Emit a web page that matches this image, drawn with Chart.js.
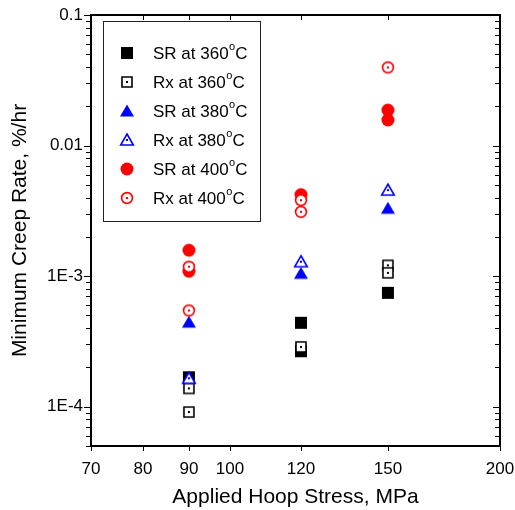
<!DOCTYPE html>
<html>
<head>
<meta charset="utf-8">
<script src="https://cdn.jsdelivr.net/npm/chart.js@4/dist/chart.umd.min.js"></script>
<style>
html,body{margin:0;padding:0;background:#fff;}
#wrap{width:515px;height:510px;}
</style>
</head>
<body>
<div id="wrap"><canvas id="c" width="515" height="510"></canvas></div>
<script>
// ---- data ----
const seriesNames = ['SR at 360', 'Rx at 360', 'SR at 380', 'Rx at 380', 'SR at 400', 'Rx at 400'];
const stressSR360 = [90, 120, 120, 150];
const rateSR360   = [1.68e-4, 4.39e-4, 2.66e-4, 7.45e-4];
const stressRx360 = [90, 90, 120, 150, 150];
const rateRx360   = [1.38e-4, 9.1e-5, 2.87e-4, 1.21e-3, 1.06e-3];
const stressSR380 = [90, 120, 150];
const rateSR380   = [4.44e-4, 1.05e-3, 3.31e-3];
const stressRx380 = [90, 120, 150];
const rateRx380   = [1.65e-4, 1.29e-3, 4.56e-3];
const stressSR400 = [90, 90, 120, 150, 150];
const rateSR400   = [1.58e-3, 1.09e-3, 4.21e-3, 1.87e-2, 1.57e-2];
const stressRx400 = [90, 90, 120, 120, 150];
const rateRx400   = [1.18e-3, 5.46e-4, 3.82e-3, 3.11e-3, 3.97e-2];

const xTickValues = [70, 80, 90, 100, 120, 150, 200];
const xTickLabels = ['70', '80', '90', '100', '120', '150', '200'];
const yTickValues = [5e-5, 6e-5, 7e-5, 8e-5, 9e-5,
                     1e-4, 2e-4, 3e-4, 4e-4, 5e-4, 6e-4, 7e-4, 8e-4, 9e-4,
                     1e-3, 2e-3, 3e-3, 4e-3, 5e-3, 6e-3, 7e-3, 8e-3, 9e-3,
                     1e-2, 2e-2, 3e-2, 4e-2, 5e-2, 6e-2, 7e-2, 8e-2, 9e-2,
                     1e-1];
const yTickLabels = ['', '', '', '', '',
                     '1E-4', '', '', '', '', '', '', '', '',
                     '1E-3', '', '', '', '', '', '', '', '',
                     '0.01', '', '', '', '', '', '', '', '',
                     '0.1'];

const FONT = "'Liberation Sans', Arial, Helvetica, sans-serif";

// ---- marker images ----
function makeMarker(shape, color, filled) {
  const s = 18, c = document.createElement('canvas');
  c.width = s; c.height = s;
  const g = c.getContext('2d'), m = s / 2;
  g.fillStyle = filled ? color : '#fff';
  g.strokeStyle = color;
  g.lineWidth = 1.6;
  g.beginPath();
  if (shape === 'square') {
    if (filled) g.rect(m - 6, m - 6, 12, 12); else g.rect(m - 5, m - 5, 10, 10);
  } else if (shape === 'triangle') {
    if (filled) { g.moveTo(m, m - 6.5); g.lineTo(m + 7, m + 5.5); g.lineTo(m - 7, m + 5.5); }
    else { g.moveTo(m, m - 6); g.lineTo(m + 6.3, m + 5); g.lineTo(m - 6.3, m + 5); }
    g.closePath();
  } else {
    if (filled) g.arc(m, m, 6.5, 0, Math.PI * 2); else g.arc(m, m, 5.4, 0, Math.PI * 2);
  }
  g.fill();
  if (!filled) {
    g.stroke();
    g.fillStyle = color;
    g.fillRect(m - 1, m - 1, 2, 2);
  }
  return c;
}
const markers = [
  makeMarker('square', '#000000', true),
  makeMarker('square', '#000000', false),
  makeMarker('triangle', '#0000ff', true),
  makeMarker('triangle', '#0000ff', false),
  makeMarker('circle', '#ff0000', true),
  makeMarker('circle', '#ff0000', false)
];

function pts(xs, ys) { return xs.map((v, i) => ({x: v, y: ys[i]})); }
const seriesData = [
  pts(stressSR360, rateSR360), pts(stressRx360, rateRx360),
  pts(stressSR380, rateSR380), pts(stressRx380, rateRx380),
  pts(stressSR400, rateSR400), pts(stressRx400, rateRx400)
];

const datasets = seriesData.map((d, i) => ({
  label: seriesNames[i],
  data: d,
  pointStyle: markers[i],
  pointRadius: 7,
  pointHoverRadius: 7,
  showLine: false,
  order: 6 - i
}));

// ---- frame / ticks plugin ----
const framePlugin = {
  id: 'frame',
  afterDraw(chart) {
    const {ctx, chartArea: a, scales: {x, y}} = chart;
    ctx.save();
    ctx.strokeStyle = '#000';
    ctx.lineWidth = 1;
    ctx.beginPath();
    y.ticks.forEach((t, i) => {
      const py = Math.round(y.getPixelForValue(t.value)) + 0.5;
      const len = yTickLabels[i] ? 7 : 5;
      ctx.moveTo(a.left - len, py); ctx.lineTo(a.left, py);
      ctx.moveTo(a.right - len, py); ctx.lineTo(a.right, py);
    });
    x.ticks.forEach(t => {
      const px = Math.round(x.getPixelForValue(t.value)) + 0.5;
      ctx.moveTo(px, a.bottom); ctx.lineTo(px, a.bottom + 5);
      ctx.moveTo(px, a.top); ctx.lineTo(px, a.top + 5);
    });
    ctx.stroke();
    ctx.lineWidth = 2;
    ctx.strokeRect(a.left, a.top, a.right - a.left, a.bottom - a.top);
    ctx.restore();
  }
};

// ---- legend plugin ----
const legendPlugin = {
  id: 'boxLegend',
  afterDraw(chart) {
    const ctx = chart.ctx;
    ctx.save();
    ctx.fillStyle = '#fff';
    ctx.fillRect(103.5, 21.5, 157, 200);
    ctx.strokeStyle = '#222';
    ctx.lineWidth = 1;
    ctx.strokeRect(103.5, 21.5, 157, 200);
    const rowY0 = 53, rowStep = 29;
    seriesNames.forEach((name, i) => {
      const cy = rowY0 + rowStep * i;
      const img = markers[i];
      ctx.drawImage(img, 127 - img.width / 2, cy - img.height / 2);
      ctx.fillStyle = '#000';
      ctx.textBaseline = 'middle';
      ctx.textAlign = 'left';
      ctx.font = '17px ' + FONT;
      ctx.fillText(name, 153, cy + 1);
      let w = ctx.measureText(name).width;
      ctx.font = '11px ' + FONT;
      ctx.fillText('o', 153 + w + 0.5, cy - 6);
      const w2 = ctx.measureText('o').width;
      ctx.font = '17px ' + FONT;
      ctx.fillText('C', 153 + w + w2 + 0.5, cy + 1);
    });
    ctx.restore();
  }
};

new Chart(document.getElementById('c'), {
  type: 'scatter',
  data: { datasets },
  options: {
    responsive: false,
    animation: false,
    events: [],
    layout: { padding: { top: 15, right: 15, left: 0, bottom: 0 } },
    plugins: { legend: { display: false }, tooltip: { enabled: false } },
    scales: {
      x: {
        type: 'logarithmic',
        min: 70, max: 200,
        afterBuildTicks: s => { s.ticks = xTickValues.map(v => ({value: v})); },
        afterFit: s => { s.height = 64; s.paddingLeft = 0; s.paddingRight = 0; },
        grid: { display: false, drawTicks: false },
        border: { display: false },
        ticks: {
          autoSkip: false, maxRotation: 0, padding: 13,
          color: '#000', font: { family: FONT, size: 17 },
          callback: (v, i) => xTickLabels[i]
        },
        title: {
          display: true, text: 'Applied Hoop Stress, MPa',
          color: '#000', font: { family: FONT, size: 21 },
          padding: { top: 0, bottom: 0 }
        }
      },
      y: {
        type: 'logarithmic',
        min: 5e-5, max: 0.1,
        afterBuildTicks: s => { s.ticks = yTickValues.map(v => ({value: v})); },
        afterFit: s => { s.width = 91; s.paddingTop = 0; s.paddingBottom = 0; },
        grid: { display: false, drawTicks: false },
        border: { display: false },
        ticks: {
          autoSkip: false, padding: 8,
          color: '#000', font: { family: FONT, size: 17 },
          callback: (v, i) => yTickLabels[i]
        },
        title: {
          display: true, text: 'Minimum Creep Rate, %/hr',
          color: '#000', font: { family: FONT, size: 21 },
          padding: { top: 8, bottom: 0 }
        }
      }
    }
  },
  plugins: [framePlugin, legendPlugin]
});
</script>
</body>
</html>
